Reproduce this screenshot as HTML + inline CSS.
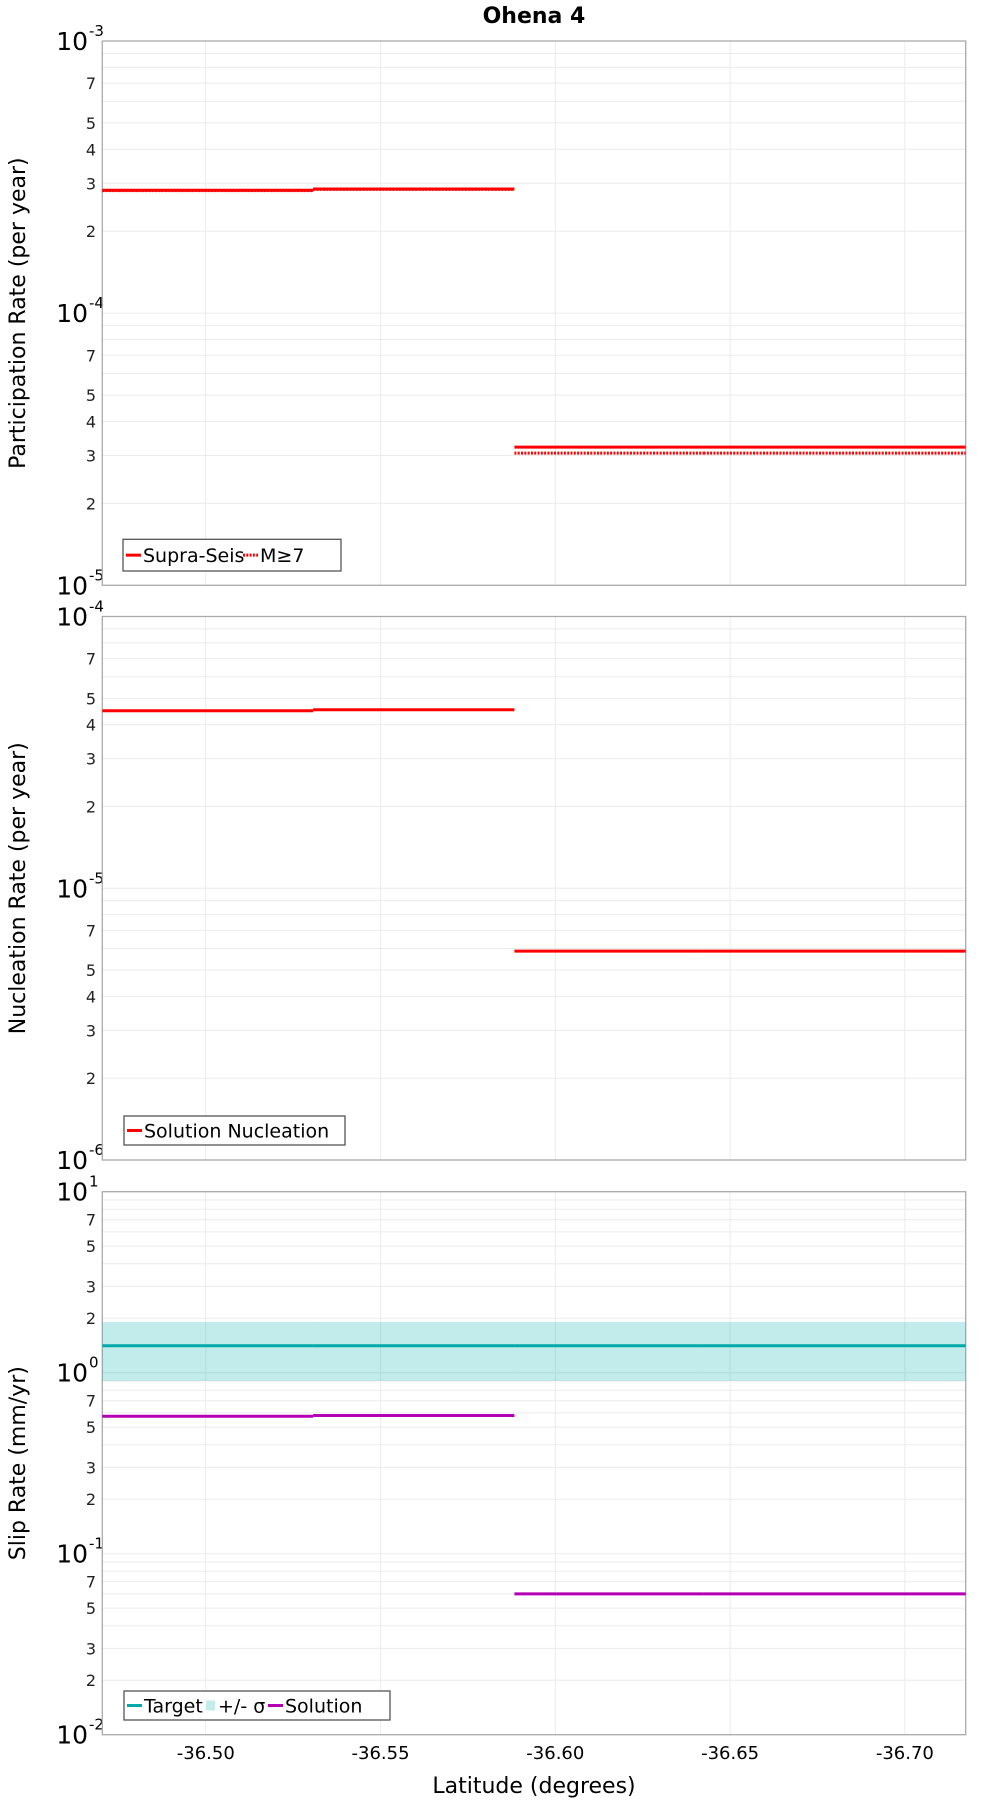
<!DOCTYPE html>
<html><head><meta charset="utf-8"><style>
html,body{margin:0;padding:0;background:#fff;}
svg{display:block;font-family:"DejaVu Sans","Liberation Sans",sans-serif;}
</style></head><body>
<svg id="chart" width="1000" height="1800" viewBox="0 0 1000 1800" xmlns="http://www.w3.org/2000/svg">
<text x="534" y="23" text-anchor="middle" font-size="22" font-weight="bold">Ohena 4</text>
<g id="plots"></g>
<text x="534" y="1793" text-anchor="middle" font-size="22">Latitude (degrees)</text>
</svg>
<script>
// data
const breaks = [-36.4704, -36.5307, -36.5883, -36.6424, -36.7174];
const xTicks = [-36.50, -36.55, -36.60, -36.65, -36.70];
const xTickLabels = ["-36.50", "-36.55", "-36.60", "-36.65", "-36.70"];
const supraSeis = [2.83e-4, 2.86e-4, 3.22e-5, 3.22e-5];
const mGe7 = [2.82e-4, 2.85e-4, 3.06e-5, 3.06e-5];
const nucleation = [4.50e-5, 4.54e-5, 5.87e-6, 5.87e-6];
const target = [1.41, 1.41, 1.41, 1.41];
const sigmaLow = [0.90, 0.90, 0.90, 0.90];
const sigmaHigh = [1.905, 1.905, 1.905, 1.905];
const solution = [0.575, 0.58, 0.060, 0.060];
const ns = "http://www.w3.org/2000/svg";
const root = document.getElementById('plots');
const X0 = 102.3, X1 = 965.7;
function xs(v){ return X0 + (v - breaks[0]) / (breaks[breaks.length-1] - breaks[0]) * (X1 - X0); }
function mk(tag, attrs, parent){ const e = document.createElementNS(ns, tag); for (const k in attrs) e.setAttribute(k, attrs[k]); (parent||root).appendChild(e); return e; }

function panel(top, bottom, dMin, dMax, minorLabels, yTitle, name){
  const g = mk('g', {});
  
  
  const ys = v => bottom - (Math.log10(v) - dMin) / (dMax - dMin) * (bottom - top);
  for (let d = dMin; d <= dMax; d++) {
    for (let m = 1; m <= 9; m++) {
      if (d === dMax && m > 1) break;
      const v = m * Math.pow(10, d);
      const y = ys(v);
      const gl = mk('line', {x1: X0, x2: X1, y1: y, y2: y, stroke: '#ebebeb', 'stroke-width': 1}, g);
      
      
      if (m === 1) {
        const t = mk('text', {x: 88, y: y + 9, 'text-anchor': 'end', 'font-size': 25}, g);
        t.textContent = '10';
        
        
        const s = mk('text', {x: 89, y: y - 5, 'text-anchor': 'start', 'font-size': 15}, g);
        s.textContent = String(d);
        
        
      } else if (minorLabels.indexOf(m) >= 0) {
        const t = mk('text', {x: 96, y: y + 6, 'text-anchor': 'end', 'font-size': 16, fill: '#222'}, g);
        t.textContent = String(m);
        
        
      }
    }
  }
  xTicks.forEach(v => {
    const gl = mk('line', {x1: xs(v), x2: xs(v), y1: top, y2: bottom, stroke: '#ebebeb', 'stroke-width': 1}, g);
    
    
  });
  const fr = mk('rect', {x: X0, y: top, width: X1 - X0, height: bottom - top, fill: 'none', stroke: '#aaa', 'stroke-width': 1.3}, g);
  
  
  const yt = mk('text', {x: 0, y: 0, 'text-anchor': 'middle', 'font-size': 22, transform: 'translate(25,' + ((top + bottom) / 2) + ') rotate(-90)'}, g);
  yt.textContent = yTitle;
  
  
  return {g, ys};
}
function steps(p, vals, color, name, dash){
  for (let i = 0; i < vals.length; i++) {
    const attrs = {x1: xs(breaks[i]), x2: xs(breaks[i+1]), y1: p.ys(vals[i]), y2: p.ys(vals[i]), stroke: color, 'stroke-width': 3};
    if (dash) attrs['stroke-dasharray'] = dash;
    const l = mk('line', attrs, p.g);
    
    
  }
}
function legend(p, x, y, w, h, items){
  const lg = mk('g', {}, p.g);
  
  
  mk('rect', {x: x, y: y, width: w, height: h, fill: '#fff', stroke: '#555', 'stroke-width': 1.3}, lg);
  let cx = x + 3;
  items.forEach(it => {
    const e = mk('g', {}, lg);
    
    
    if (it.type === 'box') mk('rect', {x: cx + 2, y: y + h/2 - 5, width: 9, height: 10, fill: it.color}, e);
    else { const a = {x1: cx, x2: cx + 15, y1: y + h/2, y2: y + h/2, stroke: it.color, 'stroke-width': 3}; if (it.dash) a['stroke-dasharray'] = it.dash; mk('line', a, e); }
    const t = mk('text', {x: cx + (it.type === 'box' ? 14 : 17), y: y + h/2 + 7, 'font-size': 19}, e);
    t.textContent = it.label;
    cx += (it.type === 'box' ? 14 : 17) + it.w;
  });
}
const p1 = panel(41, 585.3, -5, -3, [2,3,4,5,7], 'Participation Rate (per year)', 'participation-panel');
steps(p1, supraSeis, '#ff0000', 'supra-seis');
steps(p1, mGe7, '#ff0000', 'm-ge-7', '2,1.3');
legend(p1, 123, 539.3, 218, 31.7, [{label: 'Supra-Seis', color: '#f00', w: 100}, {label: 'M≥7', color: '#f00', dash: '2,1.3', w: 40}]);
const p2 = panel(616.5, 1160, -6, -4, [2,3,4,5,7], 'Nucleation Rate (per year)', 'nucleation-panel');
steps(p2, nucleation, '#ff0000', 'nucleation');
legend(p2, 124, 1116, 221, 29, [{label: 'Solution Nucleation', color: '#f00', w: 195}]);
const p3 = panel(1191.7, 1734.7, -2, 1, [2,3,5,7], 'Slip Rate (mm/yr)', 'slip-rate-panel');
for (let i = 0; i < sigmaLow.length; i++) {
  const r = mk('rect', {x: xs(breaks[i]), y: p3.ys(sigmaHigh[i]), width: xs(breaks[i+1]) - xs(breaks[i]), height: p3.ys(sigmaLow[i]) - p3.ys(sigmaHigh[i]), fill: 'rgba(0,175,170,0.24)'}, p3.g);
  
  
}
steps(p3, target, '#00aaaa', 'target');
steps(p3, solution, '#b400b4', 'solution');
legend(p3, 124, 1691, 266, 29, [{label: 'Target', color: '#00aaaa', w: 60}, {label: '+/- σ', color: '#c3ecea', type: 'box', w: 50}, {label: 'Solution', color: '#b400b4', w: 100}]);
xTicks.forEach((v, i) => {
  const t = mk('text', {x: xs(v), y: 1759, 'text-anchor': 'middle', 'font-size': 18});
  t.textContent = xTickLabels[i];
  
  
});
</script>
</body></html>
